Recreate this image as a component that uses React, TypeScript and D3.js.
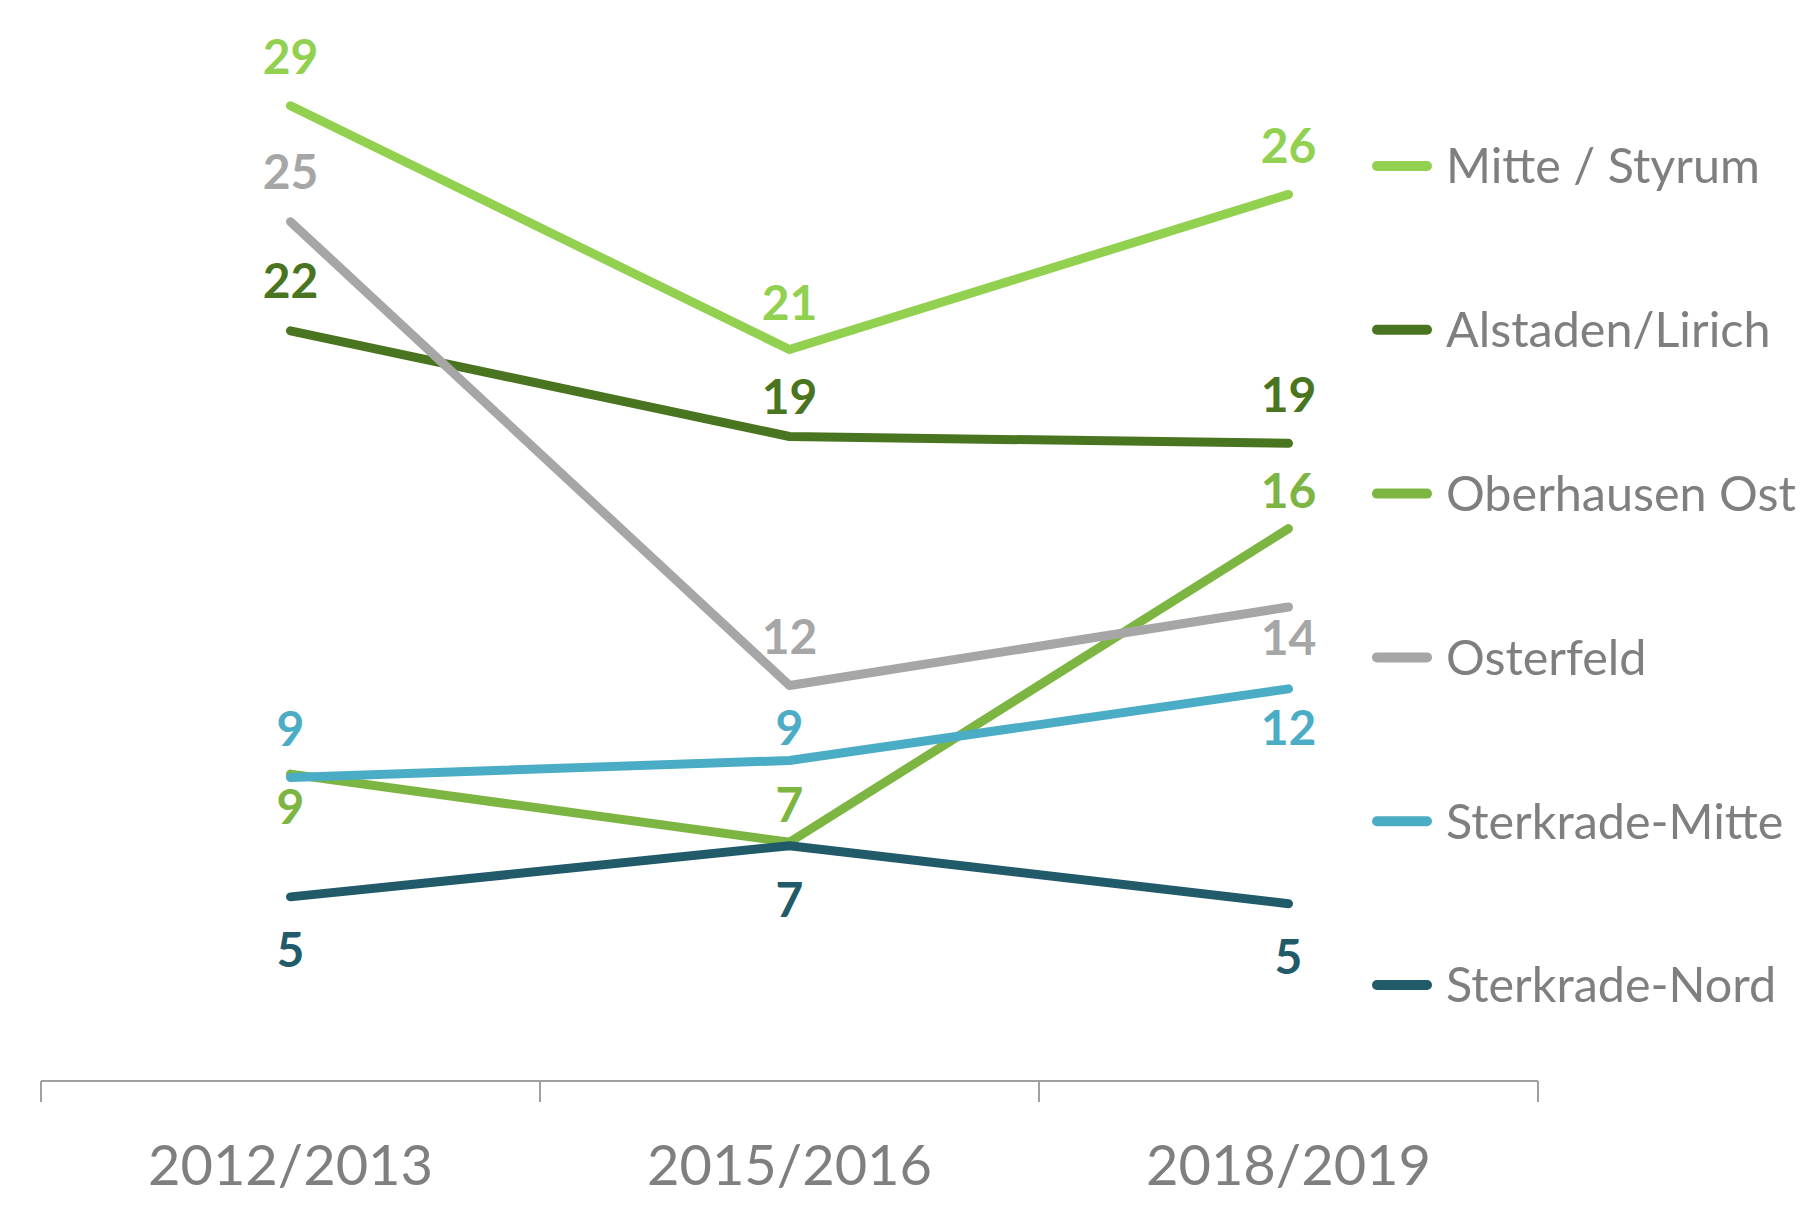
import React from "react";
import * as d3 from "d3";

const categories = ["2012/2013", "2015/2016", "2018/2019"];
const seriesNames = ["Mitte / Styrum", "Alstaden/Lirich", "Oberhausen Ost", "Osterfeld", "Sterkrade-Mitte", "Sterkrade-Nord"];
const mitteStyrum = [28.6, 21.45, 26.0];
const alstadenLirich = [22.0, 18.9, 18.7];
const oberhausenOst = [9.0, 7.0, 16.2];
const osterfeld = [25.2, 11.6, 13.9];
const sterkradeMitte = [8.9, 9.4, 11.5];
const sterkradeNord = [5.4, 6.9, 5.2];

const seriesValues = [mitteStyrum, alstadenLirich, oberhausenOst, osterfeld, sterkradeMitte, sterkradeNord];
const colors = ["#92D050", "#4A7520", "#7DB543", "#A6A6A6", "#4BACC6", "#215A68"];
// label vertical offsets (label center relative to point), per series per point
const labelDy = [
  [-49, -47, -49],
  [-50, -40, -49],
  [33, -38, -38],
  [-50, -49, 31],
  [-49, -33, 39],
  [53, 54, 53],
];

const W = 1800;
const H = 1206;

export default function App() {
  const x = d3.scaleBand<string>().domain(categories).range([41, 1538]).padding(0);
  const y = d3.scaleLinear().domain([0, 30]).range([1081, 58]);
  const cx = (c: string) => (x(c) as number) + x.bandwidth() / 2;
  const line = d3
    .line<number>()
    .x((_, i) => cx(categories[i]))
    .y((v) => y(v));
  const fmt = d3.format(".0f");
  const tickXs = [...categories.map((c) => x(c) as number), 1538];
  const font = "Lato, 'Open Sans', sans-serif";
  const legendY0 = 166;
  const legendStep = 163.8;

  return (
    <svg width={W} height={H} style={{ position: "absolute", left: 0, top: 0, background: "#fff" }}>
      {/* axis */}
      <line x1={41} x2={1538} y1={y(0)} y2={y(0)} stroke="#A0A0A0" strokeWidth={2} />
      {tickXs.map((tx, i) => (
        <line key={i} x1={tx} x2={tx} y1={y(0)} y2={y(0) + 21} stroke="#A0A0A0" strokeWidth={2} />
      ))}
      {categories.map((c) => (
        <text key={c} x={cx(c)} y={1185} textAnchor="middle" fontFamily={font} fontSize={56} fill="#7F7F7F">
          {c}
        </text>
      ))}
      {/* lines */}
      {seriesValues.map((vals, si) => (
        <path
          key={si}
          d={line(vals) as string}
          fill="none"
          stroke={colors[si]}
          strokeWidth={9}
          strokeLinecap="round"
          strokeLinejoin="round"
        />
      ))}
      {/* labels */}
      {seriesValues.map((vals, si) =>
        vals.map((v, i) => (
          <text
            key={`${si}-${i}`}
            x={cx(categories[i])}
            y={y(v) + labelDy[si][i]}
            dy="0.36em"
            textAnchor="middle"
            fontFamily={font}
            fontWeight={700}
            fontSize={48}
            fill={colors[si]}
          >
            {fmt(v)}
          </text>
        ))
      )}
      {/* legend */}
      {seriesNames.map((n, i) => {
        const ly = legendY0 + i * legendStep;
        return (
          <g key={n}>
            <line x1={1377} x2={1427} y1={ly} y2={ly} stroke={colors[i]} strokeWidth={10} strokeLinecap="round" />
            <text x={1446} y={ly} dy="0.36em" fontFamily={font} fontSize={48.5} fill="#7F7F7F">
              {n}
            </text>
          </g>
        );
      })}
    </svg>
  );
}
